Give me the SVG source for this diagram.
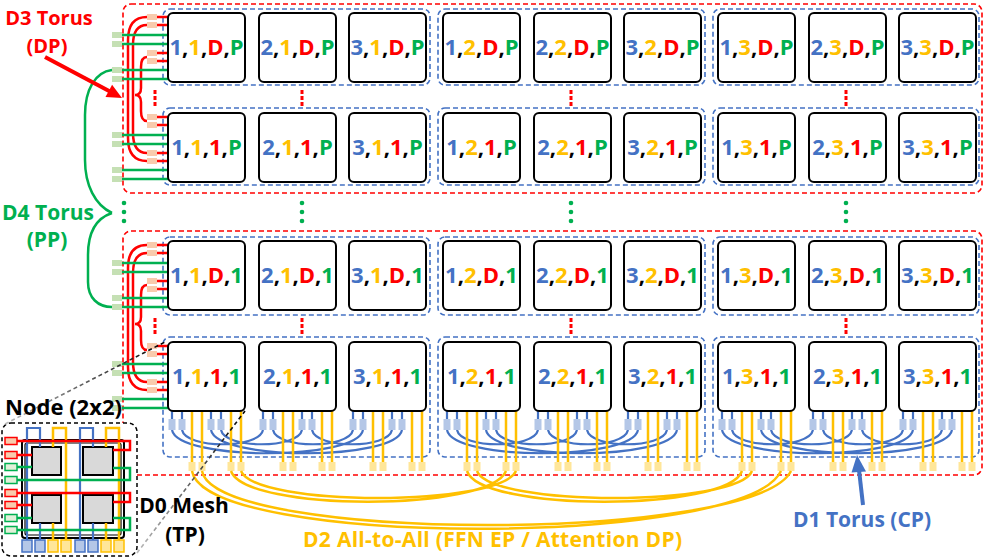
<svg xmlns="http://www.w3.org/2000/svg" width="986" height="558" viewBox="0 0 986 558">
<defs>
<style>
.rd{fill:none;stroke:#FF0000;stroke-width:1.6;stroke-dasharray:5 3}
.bd{fill:none;stroke:#4472C4;stroke-width:1.6;stroke-dasharray:5 3}
.box{fill:#fff;stroke:#000;stroke-width:2}
.t{font-family:'Open Sans','Liberation Sans',sans-serif;font-weight:700}
.lbl{font-size:22px;text-anchor:middle;fill:#000}
.cb{fill:#4472C4}.cy{fill:#FFC000}.cr{fill:#FF0000}.cg{fill:#00B050}.ck{fill:#000}
.lr{stroke:#FF0000;stroke-width:2.5;fill:none}
.lg{stroke:#00B050;stroke-width:2.5;fill:none}
.lb{stroke:#4472C4;stroke-width:2.2;fill:none}
.ly{stroke:#FFC000;stroke-width:2.5;fill:none}
.ps{fill:#F8CBAD}.pg{fill:#C5E0B4}.pb{fill:#B4C7E7}.py{fill:#FFE699}
.dr{fill:#FF0000}.dg{fill:#00B050}
.chip{fill:#D9D9D9;stroke:#000;stroke-width:2}
.ir{fill:#F8CBAD;stroke:#FF0000;stroke-width:1.5}
.ig{fill:#E2F0D9;stroke:#00B050;stroke-width:1.5}
.ib{fill:#B4C7E7;stroke:#4472C4;stroke-width:1.5}
.iy{fill:#FFE699;stroke:#FFC000;stroke-width:1.5}
</style>
<linearGradient id="gr1" gradientUnits="userSpaceOnUse" x1="5" y1="424" x2="165" y2="342">
<stop offset="0" stop-color="#BBBBBB"/><stop offset="1" stop-color="#000"/>
</linearGradient>
<linearGradient id="gr2" gradientUnits="userSpaceOnUse" x1="137" y1="553" x2="245" y2="411">
<stop offset="0" stop-color="#BBBBBB"/><stop offset="1" stop-color="#000"/>
</linearGradient>
<g id="leftPorts">
<path class="lr" d="M156 4H168M156 12H168M156 40H168M156 48H168"/>
<rect class="ps" x="147" y="1" width="10" height="6"/>
<rect class="ps" x="147" y="9" width="10" height="6"/>
<rect class="ps" x="147" y="37" width="10" height="6"/>
<rect class="ps" x="147" y="45" width="10" height="6"/>
<path class="lg" d="M121 22H168M121 31H168M121 57H168M121 66H168"/>
<rect class="pg" x="112" y="19" width="10" height="6"/>
<rect class="pg" x="112" y="28" width="10" height="6"/>
<rect class="pg" x="112" y="54" width="10" height="6"/>
<rect class="pg" x="112" y="63" width="10" height="6"/>
</g>
<g id="d1ring">
<path class="lb" d="M14 430C18 449 91 449 95 430M105 430C109 449 181 449 185 430M53 430C57 449 130 449 134 430M144 430C148 449 220 449 224 430M4 430C10 461 189 461 195 430M43 430C49 461 228 461 234 430"/>
</g>
<g id="bottomPorts">
<path class="lb" d="M4 411V420M14 411V420M43 411V420M53 411V420"/>
<rect class="pb" x="0.5" y="419" width="7" height="11"/>
<rect class="pb" x="10.5" y="419" width="7" height="11"/>
<rect class="pb" x="39.5" y="419" width="7" height="11"/>
<rect class="pb" x="49.5" y="419" width="7" height="11"/>
<path class="ly" d="M24 411V463M34 411V463M63 411V463M73 411V463"/>
<rect class="py" x="20.5" y="462" width="7" height="9"/>
<rect class="py" x="30.5" y="462" width="7" height="9"/>
<rect class="py" x="59.5" y="462" width="7" height="9"/>
<rect class="py" x="69.5" y="462" width="7" height="9"/>
</g>
</defs>
<rect width="986" height="558" fill="#fff"/>

<g id="frames">
<rect class="rd" x="123" y="4" width="859" height="189" rx="8"/>
<rect class="rd" x="123" y="231" width="859" height="244" rx="8"/>
<rect class="bd" x="163" y="9" width="267" height="76" rx="7"/>
<rect class="bd" x="438" y="9" width="267" height="76" rx="7"/>
<rect class="bd" x="713" y="9" width="266" height="76" rx="7"/>
<rect class="bd" x="163" y="108" width="267" height="77" rx="7"/>
<rect class="bd" x="438" y="108" width="267" height="77" rx="7"/>
<rect class="bd" x="713" y="108" width="266" height="77" rx="7"/>
<rect class="bd" x="163" y="237" width="267" height="78" rx="7"/>
<rect class="bd" x="438" y="237" width="267" height="78" rx="7"/>
<rect class="bd" x="713" y="237" width="266" height="78" rx="7"/>
<rect class="bd" x="163" y="337" width="267" height="120" rx="7"/>
<rect class="bd" x="438" y="337" width="267" height="120" rx="7"/>
<rect class="bd" x="713" y="337" width="266" height="120" rx="7"/>
</g>

<g id="connectors">
<path class="lr" d="M147 17Q128 17 128 40L128 138Q128 161 147 161"/>
<path class="lr" d="M147 25Q133 25 133 45L133 133Q133 153 147 153"/>
<path class="lr" d="M147 57Q141 57 141 67L141 88Q141 95 135 95Q141 95 141 102L141 111Q141 121 147 121"/>
<path class="lr" d="M147 245Q128 245 128 268L128 367Q128 390 147 390"/>
<path class="lr" d="M147 253Q133 253 133 273L133 362Q133 382 147 382"/>
<path class="lr" d="M147 285Q141 285 141 295L141 317Q141 324 135 324Q141 324 141 331L141 340Q141 350 147 350"/>
<path class="lg" d="M112 70C95 72 85 90 85 115L85 160C85 185 95 205 112 213"/>
<path class="lg" d="M112 213C97 218 88 232 88 255L88 282C88 298 98 307 112 307"/>
<use href="#leftPorts" y="13"/>
<use href="#leftPorts" y="113"/>
<use href="#leftPorts" y="241"/>
<use href="#leftPorts" y="342"/>
<use href="#d1ring" x="168"/>
<use href="#d1ring" x="443"/>
<use href="#d1ring" x="718"/>
<use href="#bottomPorts" x="168"/>
<use href="#bottomPorts" x="259"/>
<use href="#bottomPorts" x="349"/>
<use href="#bottomPorts" x="443"/>
<use href="#bottomPorts" x="534"/>
<use href="#bottomPorts" x="624"/>
<use href="#bottomPorts" x="718"/>
<use href="#bottomPorts" x="809"/>
<use href="#bottomPorts" x="899"/>
<path class="ly" d="M192 471C205 548 745 548 781 471M202 471C215 543 755 543 791 471M231 471C245 512 490 512 506 471M241 471C255 507 500 507 516 471M467 471C480 512 728 512 742 471M477 471C490 507 738 507 752 471"/>
</g>

<g id="nodes">
<g id="n-1-1-D-P"><rect class="box" x="168" y="13" width="77" height="69" rx="5"/><text class="t lbl" x="206.5" y="55"><tspan class="cb">1</tspan>,<tspan class="cy">1</tspan>,<tspan class="cr">D</tspan>,<tspan class="cg">P</tspan></text></g>
<g id="n-2-1-D-P"><rect class="box" x="259" y="13" width="77" height="69" rx="5"/><text class="t lbl" x="297.5" y="55"><tspan class="cb">2</tspan>,<tspan class="cy">1</tspan>,<tspan class="cr">D</tspan>,<tspan class="cg">P</tspan></text></g>
<g id="n-3-1-D-P"><rect class="box" x="349" y="13" width="77" height="69" rx="5"/><text class="t lbl" x="387.5" y="55"><tspan class="cb">3</tspan>,<tspan class="cy">1</tspan>,<tspan class="cr">D</tspan>,<tspan class="cg">P</tspan></text></g>
<g id="n-1-2-D-P"><rect class="box" x="443" y="13" width="77" height="69" rx="5"/><text class="t lbl" x="481.5" y="55"><tspan class="cb">1</tspan>,<tspan class="cy">2</tspan>,<tspan class="cr">D</tspan>,<tspan class="cg">P</tspan></text></g>
<g id="n-2-2-D-P"><rect class="box" x="534" y="13" width="77" height="69" rx="5"/><text class="t lbl" x="572.5" y="55"><tspan class="cb">2</tspan>,<tspan class="cy">2</tspan>,<tspan class="cr">D</tspan>,<tspan class="cg">P</tspan></text></g>
<g id="n-3-2-D-P"><rect class="box" x="624" y="13" width="77" height="69" rx="5"/><text class="t lbl" x="662.5" y="55"><tspan class="cb">3</tspan>,<tspan class="cy">2</tspan>,<tspan class="cr">D</tspan>,<tspan class="cg">P</tspan></text></g>
<g id="n-1-3-D-P"><rect class="box" x="718" y="13" width="77" height="69" rx="5"/><text class="t lbl" x="756.5" y="55"><tspan class="cb">1</tspan>,<tspan class="cy">3</tspan>,<tspan class="cr">D</tspan>,<tspan class="cg">P</tspan></text></g>
<g id="n-2-3-D-P"><rect class="box" x="809" y="13" width="77" height="69" rx="5"/><text class="t lbl" x="847.5" y="55"><tspan class="cb">2</tspan>,<tspan class="cy">3</tspan>,<tspan class="cr">D</tspan>,<tspan class="cg">P</tspan></text></g>
<g id="n-3-3-D-P"><rect class="box" x="899" y="13" width="77" height="69" rx="5"/><text class="t lbl" x="937.5" y="55"><tspan class="cb">3</tspan>,<tspan class="cy">3</tspan>,<tspan class="cr">D</tspan>,<tspan class="cg">P</tspan></text></g>

<g id="n-1-1-1-P"><rect class="box" x="168" y="113" width="77" height="69" rx="5"/><text class="t lbl" x="206.5" y="155"><tspan class="cb">1</tspan>,<tspan class="cy">1</tspan>,<tspan class="cr">1</tspan>,<tspan class="cg">P</tspan></text></g>
<g id="n-2-1-1-P"><rect class="box" x="259" y="113" width="77" height="69" rx="5"/><text class="t lbl" x="297.5" y="155"><tspan class="cb">2</tspan>,<tspan class="cy">1</tspan>,<tspan class="cr">1</tspan>,<tspan class="cg">P</tspan></text></g>
<g id="n-3-1-1-P"><rect class="box" x="349" y="113" width="77" height="69" rx="5"/><text class="t lbl" x="387.5" y="155"><tspan class="cb">3</tspan>,<tspan class="cy">1</tspan>,<tspan class="cr">1</tspan>,<tspan class="cg">P</tspan></text></g>
<g id="n-1-2-1-P"><rect class="box" x="443" y="113" width="77" height="69" rx="5"/><text class="t lbl" x="481.5" y="155"><tspan class="cb">1</tspan>,<tspan class="cy">2</tspan>,<tspan class="cr">1</tspan>,<tspan class="cg">P</tspan></text></g>
<g id="n-2-2-1-P"><rect class="box" x="534" y="113" width="77" height="69" rx="5"/><text class="t lbl" x="572.5" y="155"><tspan class="cb">2</tspan>,<tspan class="cy">2</tspan>,<tspan class="cr">1</tspan>,<tspan class="cg">P</tspan></text></g>
<g id="n-3-2-1-P"><rect class="box" x="624" y="113" width="77" height="69" rx="5"/><text class="t lbl" x="662.5" y="155"><tspan class="cb">3</tspan>,<tspan class="cy">2</tspan>,<tspan class="cr">1</tspan>,<tspan class="cg">P</tspan></text></g>
<g id="n-1-3-1-P"><rect class="box" x="718" y="113" width="77" height="69" rx="5"/><text class="t lbl" x="756.5" y="155"><tspan class="cb">1</tspan>,<tspan class="cy">3</tspan>,<tspan class="cr">1</tspan>,<tspan class="cg">P</tspan></text></g>
<g id="n-2-3-1-P"><rect class="box" x="809" y="113" width="77" height="69" rx="5"/><text class="t lbl" x="847.5" y="155"><tspan class="cb">2</tspan>,<tspan class="cy">3</tspan>,<tspan class="cr">1</tspan>,<tspan class="cg">P</tspan></text></g>
<g id="n-3-3-1-P"><rect class="box" x="899" y="113" width="77" height="69" rx="5"/><text class="t lbl" x="937.5" y="155"><tspan class="cb">3</tspan>,<tspan class="cy">3</tspan>,<tspan class="cr">1</tspan>,<tspan class="cg">P</tspan></text></g>

<g id="n-1-1-D-1"><rect class="box" x="168" y="241" width="77" height="69" rx="5"/><text class="t lbl" x="206.5" y="283"><tspan class="cb">1</tspan>,<tspan class="cy">1</tspan>,<tspan class="cr">D</tspan>,<tspan class="cg">1</tspan></text></g>
<g id="n-2-1-D-1"><rect class="box" x="259" y="241" width="77" height="69" rx="5"/><text class="t lbl" x="297.5" y="283"><tspan class="cb">2</tspan>,<tspan class="cy">1</tspan>,<tspan class="cr">D</tspan>,<tspan class="cg">1</tspan></text></g>
<g id="n-3-1-D-1"><rect class="box" x="349" y="241" width="77" height="69" rx="5"/><text class="t lbl" x="387.5" y="283"><tspan class="cb">3</tspan>,<tspan class="cy">1</tspan>,<tspan class="cr">D</tspan>,<tspan class="cg">1</tspan></text></g>
<g id="n-1-2-D-1"><rect class="box" x="443" y="241" width="77" height="69" rx="5"/><text class="t lbl" x="481.5" y="283"><tspan class="cb">1</tspan>,<tspan class="cy">2</tspan>,<tspan class="cr">D</tspan>,<tspan class="cg">1</tspan></text></g>
<g id="n-2-2-D-1"><rect class="box" x="534" y="241" width="77" height="69" rx="5"/><text class="t lbl" x="572.5" y="283"><tspan class="cb">2</tspan>,<tspan class="cy">2</tspan>,<tspan class="cr">D</tspan>,<tspan class="cg">1</tspan></text></g>
<g id="n-3-2-D-1"><rect class="box" x="624" y="241" width="77" height="69" rx="5"/><text class="t lbl" x="662.5" y="283"><tspan class="cb">3</tspan>,<tspan class="cy">2</tspan>,<tspan class="cr">D</tspan>,<tspan class="cg">1</tspan></text></g>
<g id="n-1-3-D-1"><rect class="box" x="718" y="241" width="77" height="69" rx="5"/><text class="t lbl" x="756.5" y="283"><tspan class="cb">1</tspan>,<tspan class="cy">3</tspan>,<tspan class="cr">D</tspan>,<tspan class="cg">1</tspan></text></g>
<g id="n-2-3-D-1"><rect class="box" x="809" y="241" width="77" height="69" rx="5"/><text class="t lbl" x="847.5" y="283"><tspan class="cb">2</tspan>,<tspan class="cy">3</tspan>,<tspan class="cr">D</tspan>,<tspan class="cg">1</tspan></text></g>
<g id="n-3-3-D-1"><rect class="box" x="899" y="241" width="77" height="69" rx="5"/><text class="t lbl" x="937.5" y="283"><tspan class="cb">3</tspan>,<tspan class="cy">3</tspan>,<tspan class="cr">D</tspan>,<tspan class="cg">1</tspan></text></g>

<g id="n-1-1-1-1"><rect class="box" x="168" y="342" width="77" height="69" rx="5"/><text class="t lbl" x="206.5" y="384"><tspan class="cb">1</tspan>,<tspan class="cy">1</tspan>,<tspan class="cr">1</tspan>,<tspan class="cg">1</tspan></text></g>
<g id="n-2-1-1-1"><rect class="box" x="259" y="342" width="77" height="69" rx="5"/><text class="t lbl" x="297.5" y="384"><tspan class="cb">2</tspan>,<tspan class="cy">1</tspan>,<tspan class="cr">1</tspan>,<tspan class="cg">1</tspan></text></g>
<g id="n-3-1-1-1"><rect class="box" x="349" y="342" width="77" height="69" rx="5"/><text class="t lbl" x="387.5" y="384"><tspan class="cb">3</tspan>,<tspan class="cy">1</tspan>,<tspan class="cr">1</tspan>,<tspan class="cg">1</tspan></text></g>
<g id="n-1-2-1-1"><rect class="box" x="443" y="342" width="77" height="69" rx="5"/><text class="t lbl" x="481.5" y="384"><tspan class="cb">1</tspan>,<tspan class="cy">2</tspan>,<tspan class="cr">1</tspan>,<tspan class="cg">1</tspan></text></g>
<g id="n-2-2-1-1"><rect class="box" x="534" y="342" width="77" height="69" rx="5"/><text class="t lbl" x="572.5" y="384"><tspan class="cb">2</tspan>,<tspan class="cy">2</tspan>,<tspan class="cr">1</tspan>,<tspan class="cg">1</tspan></text></g>
<g id="n-3-2-1-1"><rect class="box" x="624" y="342" width="77" height="69" rx="5"/><text class="t lbl" x="662.5" y="384"><tspan class="cb">3</tspan>,<tspan class="cy">2</tspan>,<tspan class="cr">1</tspan>,<tspan class="cg">1</tspan></text></g>
<g id="n-1-3-1-1"><rect class="box" x="718" y="342" width="77" height="69" rx="5"/><text class="t lbl" x="756.5" y="384"><tspan class="cb">1</tspan>,<tspan class="cy">3</tspan>,<tspan class="cr">1</tspan>,<tspan class="cg">1</tspan></text></g>
<g id="n-2-3-1-1"><rect class="box" x="809" y="342" width="77" height="69" rx="5"/><text class="t lbl" x="847.5" y="384"><tspan class="cb">2</tspan>,<tspan class="cy">3</tspan>,<tspan class="cr">1</tspan>,<tspan class="cg">1</tspan></text></g>
<g id="n-3-3-1-1"><rect class="box" x="899" y="342" width="77" height="69" rx="5"/><text class="t lbl" x="937.5" y="384"><tspan class="cb">3</tspan>,<tspan class="cy">3</tspan>,<tspan class="cr">1</tspan>,<tspan class="cg">1</tspan></text></g>
</g>

<g id="ellipses">
<rect class="dr" x="153.5" y="90" width="3" height="4"/><rect class="dr" x="153.5" y="96" width="3" height="4"/><rect class="dr" x="153.5" y="102" width="3" height="4"/>
<rect class="dr" x="300.5" y="90" width="3" height="4"/><rect class="dr" x="300.5" y="96" width="3" height="4"/><rect class="dr" x="300.5" y="102" width="3" height="4"/>
<rect class="dr" x="569.5" y="90" width="3" height="4"/><rect class="dr" x="569.5" y="96" width="3" height="4"/><rect class="dr" x="569.5" y="102" width="3" height="4"/>
<rect class="dr" x="844.5" y="90" width="3" height="4"/><rect class="dr" x="844.5" y="96" width="3" height="4"/><rect class="dr" x="844.5" y="102" width="3" height="4"/>
<rect class="dr" x="153.5" y="318" width="3" height="4"/><rect class="dr" x="153.5" y="324" width="3" height="4"/><rect class="dr" x="153.5" y="330" width="3" height="4"/>
<rect class="dr" x="300.5" y="318" width="3" height="4"/><rect class="dr" x="300.5" y="324" width="3" height="4"/><rect class="dr" x="300.5" y="330" width="3" height="4"/>
<rect class="dr" x="569.5" y="318" width="3" height="4"/><rect class="dr" x="569.5" y="324" width="3" height="4"/><rect class="dr" x="569.5" y="330" width="3" height="4"/>
<rect class="dr" x="844.5" y="318" width="3" height="4"/><rect class="dr" x="844.5" y="324" width="3" height="4"/><rect class="dr" x="844.5" y="330" width="3" height="4"/>
<circle class="dg" cx="124" cy="203" r="2.3"/><circle class="dg" cx="124" cy="212" r="2.3"/><circle class="dg" cx="124" cy="221" r="2.3"/>
<circle class="dg" cx="302" cy="203" r="2.3"/><circle class="dg" cx="302" cy="212" r="2.3"/><circle class="dg" cx="302" cy="221" r="2.3"/>
<circle class="dg" cx="571" cy="203" r="2.3"/><circle class="dg" cx="571" cy="212" r="2.3"/><circle class="dg" cx="571" cy="221" r="2.3"/>
<circle class="dg" cx="846" cy="203" r="2.3"/><circle class="dg" cx="846" cy="212" r="2.3"/><circle class="dg" cx="846" cy="221" r="2.3"/>
</g>

<g id="inset">
<rect x="2" y="423" width="135" height="133" rx="9" fill="#fff" stroke="#000" stroke-width="1.5" stroke-dasharray="4 3"/>
<rect x="22" y="440" width="102" height="98" rx="3" fill="#fff" stroke="#000" stroke-width="2"/>
<rect x="25" y="443" width="96" height="92" rx="2" fill="none" stroke="#000" stroke-width="1.2"/>
<rect class="chip" x="32" y="447" width="29" height="28"/>
<rect class="chip" x="83" y="447" width="30" height="28"/>
<rect class="chip" x="32" y="495" width="29" height="28"/>
<rect class="chip" x="83" y="495" width="30" height="28"/>
<path class="lb" stroke-width="2.5" d="M40 447V428H27V541M93 447V428H80V541M40 523V541M93 523V541"/>
<path class="ly" d="M53 447V428H66V541M106 447V428H119V541M53 523V541M106 523V541"/>
<path class="lr" d="M17 441H130V450H113M17 455H32M17 493H130V502H113M17 505H32"/>
<path class="lg" d="M17 467H32M17 480H130V468H113M17 518H32M17 530H130V518H113"/>
<rect class="ir" x="5" y="437.5" width="12" height="7"/>
<rect class="ir" x="5" y="451.5" width="12" height="7"/>
<rect class="ig" x="5" y="463.5" width="12" height="7"/>
<rect class="ig" x="5" y="476.5" width="12" height="7"/>
<rect class="ir" x="5" y="489.5" width="12" height="7"/>
<rect class="ir" x="5" y="501.5" width="12" height="7"/>
<rect class="ig" x="5" y="514.5" width="12" height="7"/>
<rect class="ig" x="5" y="526.5" width="12" height="7"/>
<rect class="ib" x="22" y="540" width="10" height="12"/>
<rect class="ib" x="35" y="540" width="10" height="12"/>
<rect class="iy" x="48" y="540" width="10" height="12"/>
<rect class="iy" x="61" y="540" width="10" height="12"/>
<rect class="ib" x="75" y="540" width="10" height="12"/>
<rect class="ib" x="88" y="540" width="10" height="12"/>
<rect class="iy" x="101" y="540" width="10" height="12"/>
<rect class="iy" x="114" y="540" width="10" height="12"/>
</g>

<g id="callout">
<line x1="5" y1="424" x2="165" y2="342" stroke="url(#gr1)" stroke-width="1.6" stroke-dasharray="4 3"/>
<line x1="137" y1="553" x2="245" y2="411" stroke="url(#gr2)" stroke-width="1.6" stroke-dasharray="4 3"/>
</g>

<g id="arrows">
<line x1="45" y1="57" x2="110" y2="91.5" stroke="#FF0000" stroke-width="4"/>
<polygon points="122,98 105.5,97.1 112.1,84.8" fill="#FF0000"/>
<line x1="863" y1="505" x2="859" y2="470" stroke="#4472C4" stroke-width="4"/>
<polygon points="857,455 866,471.5 851.5,472.5" fill="#4472C4"/>
</g>

<g id="labels" class="t">
<text x="49" y="25" font-size="20" text-anchor="middle" fill="#FF0000">D3 Torus</text>
<text x="47" y="52.5" font-size="20" text-anchor="middle" fill="#FF0000">(DP)</text>
<text x="48" y="220" font-size="21" text-anchor="middle" fill="#00B050">D4 Torus</text>
<text x="47" y="247" font-size="21" text-anchor="middle" fill="#00B050">(PP)</text>
<text x="5" y="415" font-size="22" fill="#000">Node (2x2)</text>
<text x="184" y="513" font-size="21" text-anchor="middle" fill="#000">D0 Mesh</text>
<text x="185" y="542" font-size="21" text-anchor="middle" fill="#000">(TP)</text>
<text x="303" y="547" font-size="21" fill="#FFC000" textLength="379">D2 All-to-All (FFN EP / Attention DP)</text>
<text x="862" y="527" font-size="21" text-anchor="middle" fill="#4472C4">D1 Torus (CP)</text>
</g>
</svg>
